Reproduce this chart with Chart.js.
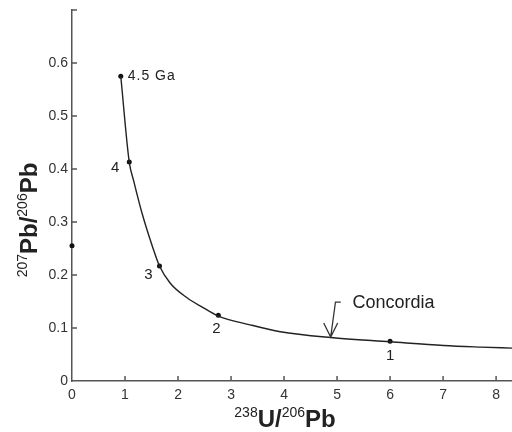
<!DOCTYPE html>
<html>
<head>
<meta charset="utf-8">
<script src="https://cdn.jsdelivr.net/npm/chart.js@4"></script>
<style>
  html, body { margin: 0; padding: 0; background: #fff; }
  #wrap { width: 512px; height: 432px; position: relative; }
</style>
</head>
<body>
<div id="wrap"><canvas id="c"></canvas></div>
<script>
// concordia curve (238U/206Pb, 207Pb/206Pb)
var curveX = [0.92, 1.08, 1.16, 1.32, 1.52, 1.65, 1.85, 2.17, 2.48, 2.75, 3.36, 3.93, 4.88, 6.0, 7.01, 7.71, 8.3];
var curveY = [0.575, 0.413, 0.379, 0.317, 0.253, 0.217, 0.185, 0.157, 0.138, 0.123, 0.106, 0.093, 0.082, 0.074, 0.067, 0.064, 0.062];

// age marks on the curve
var ageX = [0.92, 1.08, 1.65, 2.76, 6.0];
var ageY = [0.575, 0.413, 0.217, 0.124, 0.075];
var ageLabels = ['4.5 Ga', '4', '3', '2', '1'];

// point on the 207Pb/206Pb axis
var interceptX = [0];
var interceptY = [0.255];

var xTicks = [0, 1, 2, 3, 4, 5, 6, 7, 8];
var yTicks = [0, 0.1, 0.2, 0.3, 0.4, 0.5, 0.6, 0.7];

var curveName = 'Concordia';

function pts(xs, ys) {
    return xs.map(function(x, i) { return { x: x, y: ys[i] }; });
}

var FONT = "'Liberation Sans', Arial, sans-serif";

var decor = {
    id: 'decor',
    afterDatasetsDraw: function(chart) {
        var ctx = chart.ctx;
        var xs = chart.scales.x, ys = chart.scales.y;
        var area = chart.chartArea;
        ctx.save();

        // inward tick marks
        ctx.strokeStyle = '#555';
        ctx.lineWidth = 1.5;
        ctx.beginPath();
        xTicks.forEach(function(v) {
            if (v === 0) return;
            var px = xs.getPixelForValue(v);
            ctx.moveTo(px, area.bottom);
            ctx.lineTo(px, area.bottom - 5);
        });
        yTicks.forEach(function(v) {
            if (v === 0) return;
            var py = ys.getPixelForValue(v);
            ctx.moveTo(area.left, py);
            ctx.lineTo(area.left + 5, py);
        });
        ctx.stroke();

        // age labels
        var offs = [[7, 0, 'left'], [-14, 6, 'center'], [-11, 9, 'center'], [-2, 14, 'center'], [0, 15, 'center']];
        ctx.fillStyle = '#222';
        ctx.textBaseline = 'middle';
        ageLabels.forEach(function(t, i) {
            var px = xs.getPixelForValue(ageX[i]);
            var py = ys.getPixelForValue(ageY[i]);
            ctx.font = (i === 0 ? '14px ' : '15px ') + FONT;
            ctx.letterSpacing = i === 0 ? '1px' : '0px';
            ctx.textAlign = offs[i][2];
            ctx.fillText(t, px + offs[i][0], py + offs[i][1]);
        });
        ctx.letterSpacing = '0px';

        // Concordia label with bent arrow
        var tipX = xs.getPixelForValue(4.88), tipY = ys.getPixelForValue(0.083);
        var topY = ys.getPixelForValue(0.149);
        var stemX = xs.getPixelForValue(4.97), stubX = xs.getPixelForValue(5.07);
        ctx.strokeStyle = '#333';
        ctx.lineWidth = 1.3;
        ctx.beginPath();
        ctx.moveTo(stubX, topY);
        ctx.lineTo(stemX, topY);
        ctx.lineTo(tipX, tipY);
        ctx.moveTo(tipX - 7, tipY - 14);
        ctx.lineTo(tipX, tipY);
        ctx.lineTo(tipX + 7, tipY - 14);
        ctx.stroke();
        ctx.font = '18px ' + FONT;
        ctx.textAlign = 'left';
        ctx.fillStyle = '#222';
        ctx.fillText(curveName, xs.getPixelForValue(5.29), ys.getPixelForValue(0.147));

        // axis titles with superscripts
        var xParts = [['238', true], ['U/', false], ['206', true], ['Pb', false]];
        var yParts = [['207', true], ['Pb/', false], ['206', true], ['Pb', false]];
        drawMixed(ctx, xParts, 285, 427);
        ctx.save();
        ctx.translate(37, 220);
        ctx.rotate(-Math.PI / 2);
        drawMixed(ctx, yParts, 0, 0);
        ctx.restore();

        ctx.restore();
    }
};

function drawMixed(ctx, parts, cx, base) {
    var supFont = '14px ' + FONT, mainFont = 'bold 24px ' + FONT;
    var total = 0;
    parts.forEach(function(p) {
        ctx.font = p[1] ? supFont : mainFont;
        total += ctx.measureText(p[0]).width;
    });
    var x = cx - total / 2;
    ctx.fillStyle = '#222';
    ctx.textAlign = 'left';
    ctx.textBaseline = 'alphabetic';
    parts.forEach(function(p) {
        ctx.font = p[1] ? supFont : mainFont;
        ctx.fillText(p[0], x, p[1] ? base - 10 : base);
        x += ctx.measureText(p[0]).width;
    });
}

new Chart(document.getElementById('c'), {
    type: 'scatter',
    data: {
        datasets: [
            {
                data: pts(curveX, curveY),
                showLine: true,
                borderColor: '#222',
                borderWidth: 1.4,
                pointRadius: 0,
                cubicInterpolationMode: 'monotone'
            },
            {
                data: pts(ageX, ageY),
                pointRadius: 2.5,
                pointBackgroundColor: '#111',
                pointBorderWidth: 0
            },
            {
                data: pts(interceptX, interceptY),
                pointRadius: 2.5,
                pointBackgroundColor: '#111',
                pointBorderWidth: 0,
                clip: false
            }
        ]
    },
    options: {
        responsive: true,
        maintainAspectRatio: false,
        animation: false,
        layout: { autoPadding: false, padding: { top: 10, left: 0, right: 0, bottom: 0 } },
        plugins: { legend: { display: false }, tooltip: { enabled: false } },
        scales: {
            x: {
                type: 'linear',
                min: 0,
                max: 8.3,
                grid: { display: false, drawTicks: false },
                border: { color: '#555', width: 1.5 },
                afterBuildTicks: function(s) { s.ticks = xTicks.map(function(v) { return { value: v }; }); },
                afterFit: function(s) { s.height = 51; s.paddingLeft = 0; s.paddingRight = 0; },
                ticks: { color: '#333', padding: 6, font: { family: FONT, size: 14 } }
            },
            y: {
                type: 'linear',
                min: 0,
                max: 0.7,
                grid: { display: false, drawTicks: false },
                border: { color: '#555', width: 1.5 },
                afterBuildTicks: function(s) { s.ticks = yTicks.map(function(v) { return { value: v }; }); },
                afterFit: function(s) { s.width = 72; s.paddingTop = 0; s.paddingBottom = 0; },
                ticks: {
                    color: '#333',
                    padding: 4,
                    font: { family: FONT, size: 14 },
                    callback: function(v) { return v >= 0.7 ? '' : String(Math.round(v * 10) / 10); }
                }
            }
        }
    },
    plugins: [decor]
});
</script>
</body>
</html>
